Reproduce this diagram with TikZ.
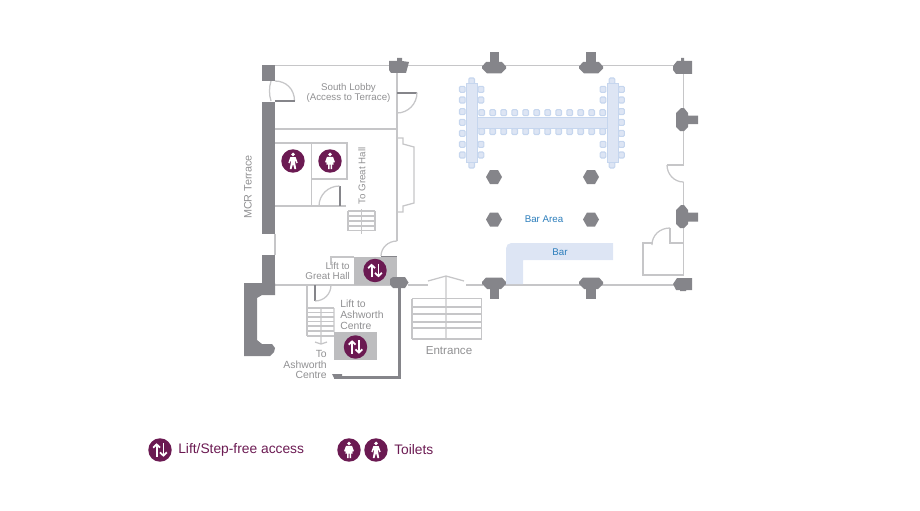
\documentclass[tikz,border=0pt]{standalone}
\usepackage{fontspec}
\setmainfont{Liberation Sans}
\usetikzlibrary{arrows.meta}
\definecolor{plum}{HTML}{6B1A52}
\definecolor{wallg}{HTML}{85858A}
\definecolor{lineg}{HTML}{C6C6C8}
\definecolor{liftg}{HTML}{BDBDBF}
\definecolor{txtg}{HTML}{909092}
\definecolor{barb}{HTML}{DDE5F4}
\definecolor{chairb}{HTML}{C6D6EE}
\definecolor{blu}{HTML}{2B7DBB}
\tikzset{
 x=0.75pt,y=-0.75pt,
 thin line/.style={draw=lineg,line width=0.95pt},
 door line/.style={draw=wallg,line width=1.5pt},
 wall/.style={fill=wallg,draw=none},
 lbl/.style={text=txtg,font=\fontsize{7.5}{8}\selectfont,inner sep=0pt,align=center},
 lbll/.style={lbl,align=left,anchor=west},
 lblr/.style={lbl,align=right,anchor=east},
 blabel/.style={text=blu,font=\fontsize{7.3}{8}\selectfont,inner sep=0pt},
 leg/.style={text=plum,font=\fontsize{10.35}{11}\selectfont,inner sep=0pt,anchor=west},
 badge/.style={circle,fill=plum,minimum size=17.6pt,inner sep=0pt},
 tablef/.style={fill=barb,draw=chairb,line width=0.5pt},
 chair/.style={fill=barb,draw=chairb,line width=0.8pt,rounded corners=0.8pt},
 pics/liftsign/.style={code={
  \draw[white,line width=1.35pt,-{Straight Barb[length=2.4pt,width=5.2pt]}] (-3.4,6.8) -- (-3.4,-6.8);
  \draw[white,line width=1.35pt,-{Straight Barb[length=2.4pt,width=5.2pt]}] (3.4,-6.8) -- (3.4,6.8);
 }},
 pics/man/.style={code={
  \fill[white] (0,-6.6) circle (1.9);
  \fill[white] (-2.6,-4) -- (2.6,-4) -- (4.7,1.8) -- (3.5,2.3) -- (2.2,-1) -- (2.2,2) -- (3.2,8) -- (1.5,8.2) -- (0,3) -- (-1.5,8.2) -- (-3.2,8) -- (-2.2,2) -- (-2.2,-1) -- (-3.5,2.3) -- (-4.7,1.8) -- cycle;
 }},
 pics/woman/.style={code={
  \fill[white] (0,-6.6) circle (1.9);
  \fill[white] (-3,-4.2) -- (3,-4.2) -- (4.9,1) -- (3.9,1.6) -- (3.2,0) -- (3.6,3.6) -- (2,3.6) -- (2,8) -- (0.5,8) -- (0.5,3.6) -- (-0.5,3.6) -- (-0.5,8) -- (-2,8) -- (-2,3.6) -- (-3.6,3.6) -- (-3.2,0) -- (-3.9,1.6) -- (-4.9,1) -- cycle;
 }},
}
\newcommand{\pillarT}[2]{%
  \fill[wall] (#1-12,#2-1) -- (#1-12,#2+1) -- (#1-7,#2+6) -- (#1+7,#2+6) -- (#1+12,#2+1) -- (#1+12,#2-1) -- (#1+8,#2-5.5) -- (#1-8,#2-5.5) -- cycle;}
\newcommand{\hexcol}[2]{%
  \fill[wall] (#1-8,#2) -- (#1-4,#2-7) -- (#1+4,#2-7) -- (#1+8,#2) -- (#1+4,#2+7) -- (#1-4,#2+7) -- cycle;}
\newcommand{\seat}[2]{\path[chair] (#1-2.8,#2-3) rectangle (#1+2.8,#2+3);}
\begin{document}
\begin{tikzpicture}
\useasboundingbox (0,0) rectangle (920,510);
% thin walls
\draw[thin line] (275,65.5) -- (673,65.5);
\draw[thin line] (397,65.5) -- (397,241);
\draw[thin line] (275,129) -- (397,129);
\draw[thin line] (275,143) -- (347,143) -- (347,179) -- (311.5,179);
\draw[thin line] (311.5,143) -- (311.5,206);
\draw[thin line] (275,206) -- (346,206);
\draw[thin line] (397,138) -- (403,138) -- (403,144) -- (414,147) -- (414,203) -- (403,206) -- (403,212) -- (397,212);
\draw[thin line] (275,234) -- (275,255);
\draw[thin line] (275,285) -- (390,285);
\draw[thin line] (331,265) -- (331,257) -- (354,257);
\draw[thin line] (307,285) -- (307,336);
\draw[thin line] (408,285) -- (428,285);
\draw[thin line] (466,285) -- (483,285);
\draw[thin line] (505,285) -- (675,285);
\draw[thin line] (683.5,65.5) -- (683.5,165);
\draw[thin line] (683.5,182) -- (683.5,275) -- (643,275) -- (643,243) -- (652,243);
\draw[thin line] (670,228) -- (670,243) -- (683.5,243);
% door arcs
\draw[thin line] (275,81) .. controls (286,81) and (294.5,89) .. (294.5,101);
\draw[thin line] (271,81) .. controls (269,87) and (269,95) .. (271,101);
\draw[door line] (275,101) -- (295,101);
\draw[door line] (397,92.5) -- (417,92.5);
\draw[thin line] (417,92.5) .. controls (417,104) and (408,113) .. (397,113);
\draw[door line] (339.5,186) -- (339.5,206);
\draw[thin line] (339.5,186) .. controls (328,186) and (319,195) .. (319,206);
\draw[thin line] (397,241) .. controls (388,241) and (381,248) .. (381,256);
\draw[door line] (381,256.5) -- (397,256.5);
\draw[door line] (315,285) -- (315,301);
\draw[thin line] (315,301) .. controls (324,301) and (331,294) .. (331,285);
\draw[thin line] (667,165) .. controls (667,174) and (674,182) .. (683.5,182);
\draw[thin line] (667,165) -- (683.5,165);
\draw[thin line] (670,228) .. controls (660,228) and (652,235) .. (652,245);
% stairs
\foreach \yy in {211,216,221,226,230.5} \draw[thin line] (348,\yy) -- (375,\yy);
\draw[thin line] (348,211) -- (348,230.5) (375,211) -- (375,230.5) (361.5,209) -- (361.5,234);
\foreach \yy in {308,312.5,317,321.5,326,331,336} \draw[thin line] (307,\yy) -- (334,\yy);
\draw[thin line] (334,308) -- (334,332) (321,308) -- (321,344) (315,342) -- (321,344) -- (327,342);
% entrance
\foreach \yy in {298.5,307,314,322,328,339} \draw[thin line] (412,\yy) -- (481.5,\yy);
\draw[thin line] (412,298.5) -- (412,339) (481.5,298.5) -- (481.5,339);
\draw[thin line] (446,276) -- (446,339) (428,281) -- (446,276) -- (464,281);
% solid walls
\fill[wall] (262,65) rectangle (275,81);
\fill[wall] (262,102) rectangle (275,234);
\fill[wall] (262,255) rectangle (275,284);
\fill[wall] (244,283) -- (275,283) -- (275,295) -- (262,295) -- (257,298) -- (257,340) -- (262,344) -- (272,344) -- (275,348) -- (274,352) -- (270,356) -- (244,356) -- cycle;
\fill[liftg] (354,257) rectangle (397,285);
\fill[liftg] (334,332) rectangle (377,360);
\fill[wall] (397.8,288) rectangle (401,379);
\fill[wall] (334,376) rectangle (401,379);
\fill[wall] (332,374) -- (342,374) -- (342,378) -- (334,378) -- cycle;
% pillars
\pillarT{494}{67.5} \fill[wall] (490,52) rectangle (498.5,63);
\pillarT{591}{67.5} \fill[wall] (586,52) rectangle (595.5,63);
\pillarT{494}{283} \fill[wall] (490,285) rectangle (499,299);
\pillarT{591}{283} \fill[wall] (586,285) rectangle (595.5,299);
\fill[wall] (390,279) -- (393,277) -- (405,277) -- (408.5,282.5) -- (405,288) -- (393,288) -- (390,285) -- cycle;
\fill[wall] (389,61) -- (397,61) -- (397,58) -- (402,58) -- (402,61) -- (409,62) -- (406,73) -- (391,73) -- (389,70) -- cycle;
\fill[wall] (673,66) -- (677,61) -- (681,61) -- (681,58) -- (684,58) -- (684,61) -- (692,61) -- (692,74) -- (676,74) -- (673,70) -- cycle;
\fill[wall] (673,284) -- (677,278) -- (692,278) -- (692,290) -- (686,290) -- (686,291) -- (680,291) -- (680,290) -- (676,290) -- cycle;
\fill[wall] (676,113) -- (681,108) -- (684,108) -- (688,113) -- (688,115.5) -- (698,115.5) -- (698,124) -- (688,124) -- (688,127) -- (684,131) -- (680,131) -- (676,127) -- cycle;
\fill[wall] (676,210) -- (681,205) -- (684,205) -- (688,210) -- (688,212.5) -- (698,212.5) -- (698,221.5) -- (688,221.5) -- (688,224) -- (684,228) -- (680,228) -- (676,224) -- cycle;
\hexcol{494}{177} \hexcol{591}{177} \hexcol{494}{219.5} \hexcol{591}{219.5}
% tables
\foreach \xx in {481.7,492.7,503.7,514.7,525.7,536.7,547.7,558.7,569.7,580.7,591.7,602.7} {\seat{\xx}{112.7} \seat{\xx}{131.5}}
\foreach \yy in {89.3,100,111.7,122.3,133.3,144.3,155} {\seat{462.3}{\yy} \seat{621.5}{\yy}}
\foreach \yy in {89.3,100,144.3,155} {\seat{481}{\yy} \seat{603}{\yy}}
\seat{471.7}{81} \seat{471.7}{165} \seat{612}{81} \seat{612}{165}
\path[tablef] (477,117) rectangle (607,128);
\path[tablef] (466,83) rectangle (477,162);
\path[tablef] (607,83) rectangle (618,162);
% bar
\fill[barb,rounded corners=4pt] (506,284) [sharp corners] -- (506,249) [rounded corners=4pt] -- (506,243) [sharp corners] -- (613,243) -- (613,260) -- (523,260) -- (523,284) -- cycle;
% badges
\node[badge] (t1) at (293,161) {}; \pic at (t1) {man};
\node[badge] (t2) at (330,161) {}; \pic at (t2) {woman};
\node[badge] (l1) at (375,270.5) {}; \pic at (l1) {liftsign};
\node[badge] (l2) at (355.5,347) {}; \pic at (l2) {liftsign};
\node[badge] (kl) at (160,450) {}; \pic at (kl) {liftsign};
\node[badge] (kw) at (349,450) {}; \pic at (kw) {woman};
\node[badge] (km) at (376,450) {}; \pic at (km) {man};
% labels
\node[lbl,font=\fontsize{7.3}{8}\selectfont] (south) at (348.5,93) {South Lobby\\(Access to Terrace)};
\node[lbl,rotate=90,font=\fontsize{8.1}{9}\selectfont] (mcr) at (248,187) {MCR Terrace};
\node[lbl,rotate=90,font=\fontsize{7.3}{8}\selectfont] (tgh) at (362,176) {To Great Hall};
\node[lblr,font=\fontsize{7.4}{8}\selectfont] (lgh) at (350,271) {Lift to\\Great Hall};
\node[lbll,font=\fontsize{7.8}{8.2}\selectfont] (lac) at (340,314.7) {Lift to\\Ashworth\\Centre};
\node[lblr,font=\fontsize{7.8}{8.2}\selectfont] (tac) at (327,364.5) {To\\Ashworth\\Centre};
\node[lbl,font=\fontsize{8.7}{9}\selectfont] (ent) at (449,351) {Entrance};
\node[blabel] (ba) at (544,219) {Bar Area};
\node[blabel] (bar) at (560,252.5) {Bar};
\node[leg] (k1) at (178,450) {Lift/Step-free access};
\node[leg] (k2) at (394,450) {Toilets};
\end{tikzpicture}
\end{document}
